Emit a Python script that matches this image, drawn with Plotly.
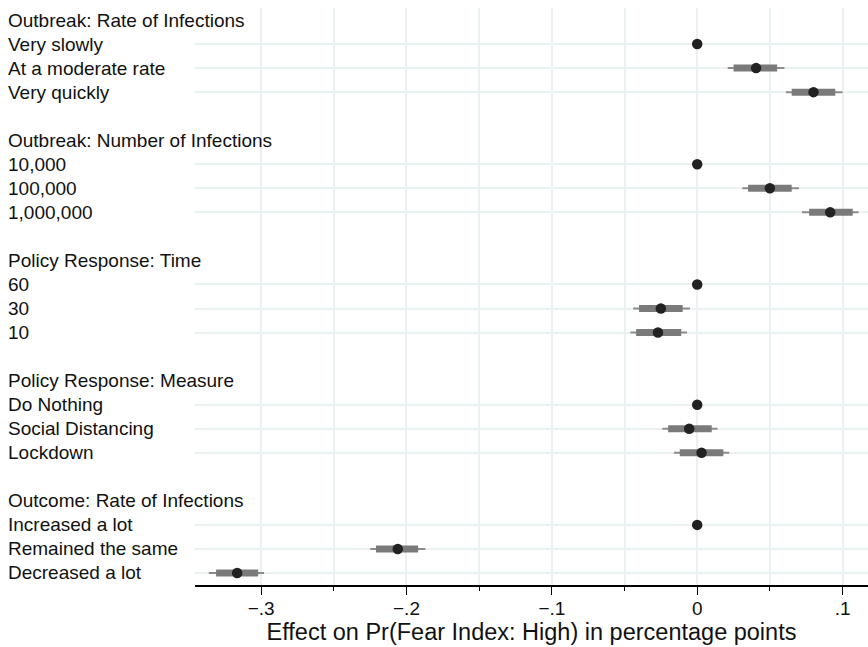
import plotly.graph_objects as go

# Rows (top to bottom); headers have no estimates
labels = [
    "Outbreak: Rate of Infections", "Very slowly", "At a moderate rate", "Very quickly", "",
    "Outbreak: Number of Infections", "10,000", "100,000", "1,000,000", "",
    "Policy Response: Time", "60", "30", "10", "",
    "Policy Response: Measure", "Do Nothing", "Social Distancing", "Lockdown", "",
    "Outcome: Rate of Infections", "Increased a lot", "Remained the same", "Decreased a lot",
]

# Estimates (None = header / blank); reference categories at 0 without CI
est = [None, 0.0, 0.0405, 0.0800, None,
       None, 0.0, 0.0500, 0.0915, None,
       None, 0.0, -0.0250, -0.0270, None,
       None, 0.0, -0.0055, 0.0030, None,
       None, 0.0, -0.2060, -0.3165]
ci90_lo = [None, None, 0.025, 0.065, None,
           None, None, 0.035, 0.077, None,
           None, None, -0.040, -0.042, None,
           None, None, -0.020, -0.012, None,
           None, None, -0.221, -0.331]
ci90_hi = [None, None, 0.055, 0.095, None,
           None, None, 0.065, 0.107, None,
           None, None, -0.010, -0.011, None,
           None, None, 0.010, 0.018, None,
           None, None, -0.192, -0.302]
ci95_lo = [None, None, 0.021, 0.061, None,
           None, None, 0.031, 0.072, None,
           None, None, -0.044, -0.046, None,
           None, None, -0.024, -0.016, None,
           None, None, -0.225, -0.336]
ci95_hi = [None, None, 0.060, 0.100, None,
           None, None, 0.070, 0.111, None,
           None, None, -0.005, -0.007, None,
           None, None, 0.014, 0.022, None,
           None, None, -0.187, -0.298]

tick_vals = [-0.3, -0.2, -0.1, 0.0, 0.1]
tick_text = ["\u2212.3", "\u2212.2", "\u2212.1", "0", ".1"]

rows = list(range(len(labels)))
data_rows = [r for r in rows if est[r] is not None]

def seg(lo, hi):
    xs, ys = [], []
    for r in rows:
        if lo[r] is not None:
            xs += [lo[r], hi[r], None]
            ys += [r, r, None]
    return xs, ys

fig = go.Figure()

x95, y95 = seg(ci95_lo, ci95_hi)
fig.add_trace(go.Scatter(x=x95, y=y95, mode="lines",
                         line=dict(color="#8c8c8c", width=2), hoverinfo="skip", showlegend=False))
x90, y90 = seg(ci90_lo, ci90_hi)
fig.add_trace(go.Scatter(x=x90, y=y90, mode="lines",
                         line=dict(color="#7a7a7a", width=7), hoverinfo="skip", showlegend=False))
fig.add_trace(go.Scatter(x=[est[r] for r in data_rows], y=data_rows, mode="markers",
                         marker=dict(color="#222222", size=10.5), showlegend=False))

fig.add_vline(x=0, line=dict(color="#4a4a4a", width=1.5, dash="10px,4px"), layer="below")

L, R, T, B = 195, 0, 8, 62
W, H = 868, 647
plot_w = W - L - R
FONT = "Liberation Sans, Arial, Helvetica, sans-serif"
for r in rows:
    if labels[r]:
        fig.add_annotation(x=(6 - L) / plot_w, xref="paper", y=r, yref="y",
                           text=labels[r], showarrow=False, xanchor="left", yanchor="middle",
                           font=dict(size=19, color="#111111", family=FONT))

grid_c = "#e9f1f3"
fig.update_layout(
    width=W, height=H,
    margin=dict(l=L, r=R, t=T, b=B),
    plot_bgcolor="white", paper_bgcolor="white",
    font=dict(family=FONT, color="#111111"),
    xaxis=dict(
        range=[-0.3455, 0.1175],
        tickvals=tick_vals, ticktext=tick_text,
        tickfont=dict(size=19),
        ticks="outside", ticklen=8, tickwidth=1.3, tickcolor="black",
        ticklabelstandoff=-3,
        showline=True, linecolor="black", linewidth=1.5,
        showgrid=True, gridcolor=grid_c, gridwidth=2,
        minor=dict(dtick=0.05, tick0=0, ticks="outside", ticklen=4, tickwidth=1.2,
                   tickcolor="black", showgrid=True, gridcolor=grid_c, gridwidth=2),
        zeroline=False,
        title=dict(text="Effect on Pr(Fear Index: High) in percentage points",
                   font=dict(size=23.5), standoff=2),
    ),
    yaxis=dict(
        range=[len(labels) - 0.5, -0.5],
        tickvals=data_rows, showticklabels=False, ticks="",
        showgrid=True, gridcolor=grid_c, gridwidth=2,
        zeroline=False, showline=False,
    ),
)

fig.write_html("out.html", config={"displayModeBar": False},
               post_script="document.body.style.margin='0';")
